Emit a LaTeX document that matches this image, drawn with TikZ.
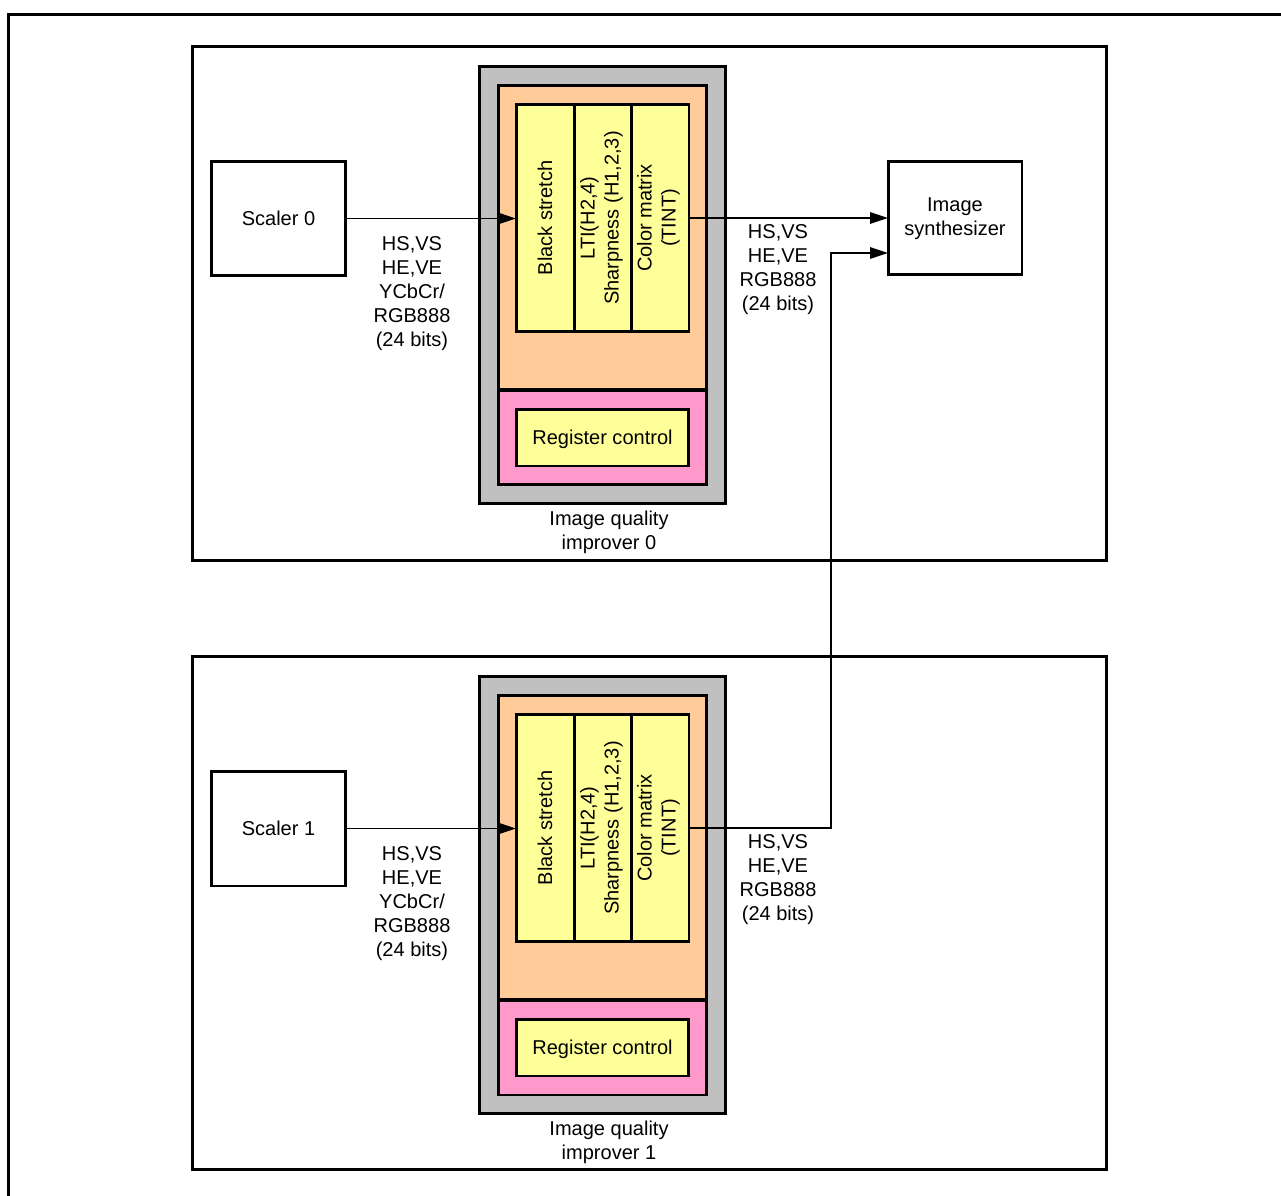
\documentclass[tikz,border=0pt]{standalone}
\usepackage{fontspec}
\setmainfont{Liberation Sans}
\usetikzlibrary{arrows.meta,calc}
\definecolor{grayfill}{HTML}{C0C0C0}
\definecolor{orangefill}{HTML}{FFCC99}
\definecolor{pinkfill}{HTML}{FF99CC}
\definecolor{yellowfill}{HTML}{FFFF99}
\tikzset{
  thickline/.style={line width=1.7pt},
  box/.style={draw, thickline, rectangle, inner sep=0pt, outer sep=0pt, align=center},
  txt/.style={inner sep=0pt, outer sep=0pt, align=center, font=\fontsize{11.4}{13.7}\selectfont},
  conn/.style={line width=0.8pt},
  arr/.style={conn, -{Triangle[length=3.6mm, width=2.3mm]}},
  col/.style={box, fill=yellowfill, minimum height=4.56cm},
}
\begin{document}
\begin{tikzpicture}[x=0.02cm, y=-0.02cm]
\useasboundingbox (0,0) rectangle (1281,1196);
\draw[thickline] (8.5,1215) -- (8.5,14.7) -- (1295,14.7);

% ---------- top panel ----------
\node[box, fill=white, minimum width=18.3cm, minimum height=10.3cm] (p0) at (649.5,303.5) {};
\node[box, fill=grayfill, minimum width=4.94cm, minimum height=8.76cm] (g0) at (602.5,285) {};
\node[box, fill=orangefill, minimum width=4.18cm, minimum height=6.1cm] (o0) at (602.5,237.5) {};
\node[box, fill=pinkfill, minimum width=4.18cm, minimum height=1.9cm] (k0) at (602.5,437.5) {};
\node[col, minimum width=1.16cm] (a0) at (545,218) {};
\node[col, minimum width=1.14cm] (b0) at (602.5,218) {};
\node[col, minimum width=1.16cm] (c0) at (660,218) {};
\node[txt, rotate=90] (at0) at (545,218) {Black stretch};
\node[txt, rotate=90] (bt0) at (601.5,218) {LTI(H2,4)\\Sharpness (H1,2,3)};
\node[txt, rotate=90] (ct0) at (658.5,218) {Color matrix\\(TINT)};
\node[box, fill=yellowfill, minimum width=3.46cm, minimum height=1.14cm] (r0) at (602.5,437.5) {};
\node[txt] (rt0) at (602.5,439) {Register control};
\node[txt] (gl0) at (609,532) {Image quality\\improver 0};
\node[box, minimum width=2.7cm, minimum height=2.3cm] (s0) at (278.5,218.5) {};
\node[txt] (st0) at (278.5,218) {Scaler 0};
\node[box, minimum width=2.68cm, minimum height=2.28cm] (syn) at (955,218) {};
\node[txt] (synt) at (955,219) {Image\\synthesizer};
\node[txt] (l0) at (412,293.5) {HS,VS\\HE,VE\\YCbCr/\\RGB888\\(24 bits)};
\node[txt] (r0l) at (778,269.5) {HS,VS\\HE,VE\\RGB888\\(24 bits)};

% ---------- bottom panel ----------
\node[box, fill=white, minimum width=18.3cm, minimum height=10.28cm] (p1) at (649.5,913) {};
\node[box, fill=grayfill, minimum width=4.94cm, minimum height=8.76cm] (g1) at (602.5,895) {};
\node[box, fill=orangefill, minimum width=4.18cm, minimum height=6.1cm] (o1) at (602.5,847.5) {};
\node[box, fill=pinkfill, minimum width=4.18cm, minimum height=1.9cm] (k1) at (602.5,1047.5) {};
\node[col, minimum width=1.16cm] (a1) at (545,828) {};
\node[col, minimum width=1.14cm] (b1) at (602.5,828) {};
\node[col, minimum width=1.16cm] (c1) at (660,828) {};
\node[txt, rotate=90] (at1) at (545,828) {Black stretch};
\node[txt, rotate=90] (bt1) at (601.5,828) {LTI(H2,4)\\Sharpness (H1,2,3)};
\node[txt, rotate=90] (ct1) at (658.5,828) {Color matrix\\(TINT)};
\node[box, fill=yellowfill, minimum width=3.46cm, minimum height=1.14cm] (r1) at (602.5,1047.5) {};
\node[txt] (rt1) at (602.5,1049) {Register control};
\node[txt] (gl1) at (609,1142) {Image quality\\improver 1};
\node[box, minimum width=2.7cm, minimum height=2.3cm] (s1) at (278.5,828.5) {};
\node[txt] (st1) at (278.5,828) {Scaler 1};
\node[txt] (l1) at (412,903.5) {HS,VS\\HE,VE\\YCbCr/\\RGB888\\(24 bits)};
\node[txt] (r1l) at (778,879.5) {HS,VS\\HE,VE\\RGB888\\(24 bits)};

% ---------- connectors ----------
\draw[arr] (s0.east) -- (s0.east -| a0.west);
\draw[arr] (s1.east) -- (s1.east -| a1.west);
\draw[arr] (c0.east) -- (c0.east -| syn.west);
\coordinate (in2) at ($(syn.west)+(0,35)$);
\draw[arr] (c1.east) -- ++(142,0) |- (in2);
\end{tikzpicture}
\end{document}
